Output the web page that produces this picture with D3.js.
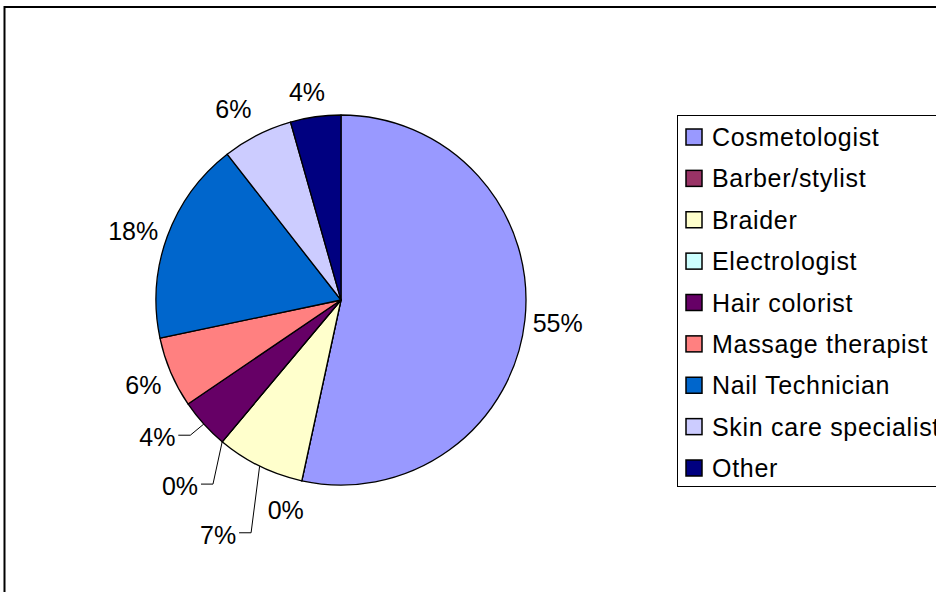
<!DOCTYPE html>
<html><head><meta charset="utf-8">
<script src="https://cdn.jsdelivr.net/npm/d3@7"></script>
<style>body{margin:0;background:#fff}svg{display:block}text{font-family:"Liberation Sans",Arial,sans-serif}</style>
</head><body><svg id="c" width="936" height="592"></svg>
<script>
const categories = ["Cosmetologist","Barber/stylist","Braider","Electrologist","Hair colorist","Massage therapist","Nail Technician","Skin care specialist","Other"];
const values = [53.4, 0, 7.7, 0, 4.4, 6.2, 17.75, 6.15, 4.4];
const labels = ["55%","0%","7%","0%","4%","6%","18%","6%","4%"];
const colors = ["#9999FF","#993366","#FFFFCC","#CCFFFF","#660066","#FF8080","#0066CC","#CCCCFF","#000080"];

const svg = d3.select("#c");
const cx = 341, cy = 300, R = 185, RL = 218;
// label nudges (layout) and which labels get leader lines
const nudge = [[0,0],[-9,-3],[-27,39],[-21,19],[-22,-9],[3,0],[-3,6],[-9,3],[-4,8]];
const leader = [false,false,true,true,true,false,false,false,false];

svg.append("rect").attr("x",4.5).attr("y",7).attr("width",960).attr("height",620)
  .attr("fill","#fff").attr("stroke","#000").attr("stroke-width",2);

const pie = d3.pie().sort(null).value(d=>d)(values);
const arc = d3.arc().innerRadius(0).outerRadius(R);
const g = svg.append("g").attr("transform",`translate(${cx},${cy})`);
g.selectAll("path").data(pie).join("path")
  .attr("d",arc).attr("fill",(d,i)=>colors[i])
  .attr("stroke","#000").attr("stroke-width",1.3).attr("stroke-linejoin","round");

pie.forEach((d,i)=>{
  const a = (d.startAngle+d.endAngle)/2;
  const lx = Math.sin(a)*RL + nudge[i][0];
  const ly = -Math.cos(a)*RL + nudge[i][1];
  if (leader[i]) {
    const sx = Math.sin(a)*R, sy = -Math.cos(a)*R;
    const ex = lx + 21, ey = ly - 2;
    g.append("polyline").attr("points",`${sx},${sy} ${ex+12},${ey} ${ex},${ey}`)
      .attr("fill","none").attr("stroke","#000").attr("stroke-width",1);
  }
  g.append("text").attr("x",lx).attr("y",ly).attr("dy","0.36em")
    .attr("text-anchor","middle").attr("font-size",25).attr("fill","#000").text(labels[i]);
});

// legend
const lg = svg.append("g");
lg.append("rect").attr("x",677.5).attr("y",115.5).attr("width",340).attr("height",371)
  .attr("fill","#fff").attr("stroke","#000").attr("stroke-width",1);
const ly = d3.scalePoint().domain(categories).range([137,468]);
categories.forEach((c,i)=>{
  lg.append("rect").attr("x",686).attr("y",ly(c)-8).attr("width",16).attr("height",16)
    .attr("fill",colors[i]).attr("stroke","#000").attr("stroke-width",1.5);
  lg.append("text").attr("x",712).attr("y",ly(c)).attr("dy","0.36em")
    .attr("font-size",25).attr("letter-spacing","0.7px").attr("fill","#000").text(c);
});
</script></body></html>
